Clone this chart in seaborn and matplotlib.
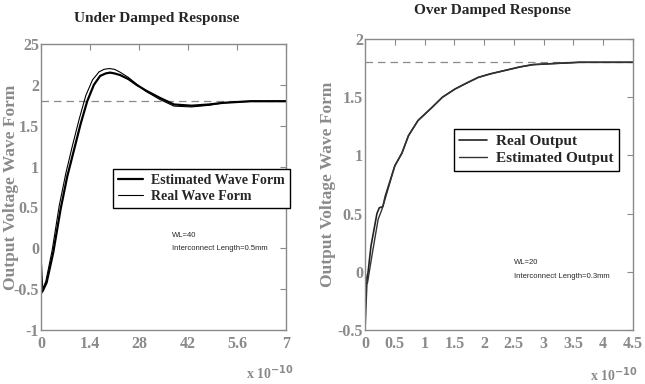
import matplotlib
matplotlib.use("Agg")
import matplotlib.pyplot as plt
import seaborn as sns

# ---- data (time in units of 1e-10 s) ----
ud_t_est = [0, 0.05, 0.16, 0.35, 0.56, 0.75, 0.94, 1.13, 1.32, 1.51, 1.69, 1.85, 1.97, 2.1, 2.26, 2.5, 2.73, 3.0, 3.4, 3.8, 4.3, 4.8, 5.2, 6.0, 7.0]
ud_v_est = [-0.55, -0.52, -0.42, -0.05, 0.48, 0.88, 1.2, 1.52, 1.8, 2.0, 2.11, 2.14, 2.15, 2.14, 2.12, 2.07, 2.0, 1.93, 1.84, 1.76, 1.745, 1.76, 1.78, 1.80, 1.80]
ud_t_real = [0, 0.05, 0.14, 0.32, 0.52, 0.71, 0.9, 1.09, 1.28, 1.47, 1.66, 1.8, 1.95, 2.1, 2.24, 2.5, 2.73, 3.0, 3.4, 3.8, 4.3, 4.8, 5.2, 6.0, 7.0]
ud_v_real = [-0.07, -0.5, -0.4, -0.02, 0.52, 0.92, 1.26, 1.58, 1.87, 2.06, 2.16, 2.19, 2.20, 2.19, 2.16, 2.09, 2.01, 1.92, 1.82, 1.74, 1.73, 1.75, 1.78, 1.80, 1.80]

od_t_real = [0, 0.03, 0.1, 0.2, 0.24, 0.3, 0.34, 0.5, 0.62, 0.73, 0.89, 1.12, 1.3, 1.51, 1.7, 1.9, 2.1, 2.35, 2.6, 2.82, 3.2, 3.6, 4.5]
od_v_real = [-0.5, -0.1, 0.22, 0.5, 0.55, 0.56, 0.65, 0.91, 1.02, 1.17, 1.30, 1.41, 1.50, 1.57, 1.62, 1.67, 1.70, 1.73, 1.76, 1.78, 1.79, 1.80, 1.80]
od_t_est = [0, 0.04, 0.12, 0.22, 0.28, 0.34, 0.5, 0.62, 0.73, 0.89, 1.12, 1.3, 1.51, 1.7, 1.9, 2.1, 2.35, 2.6, 2.82, 3.2, 3.6, 4.5]
od_v_est = [0.0, -0.1, 0.15, 0.45, 0.53, 0.63, 0.91, 1.02, 1.17, 1.30, 1.41, 1.50, 1.57, 1.62, 1.67, 1.70, 1.73, 1.76, 1.78, 1.79, 1.80, 1.80]

final_value = 1.8

ud_xticks = [0, 1.4, 2.8, 4.2, 5.6, 7]
ud_xlabels = ["0", "1.4", "28", "42", "5.6", "7"]
ud_yticks = [-1, -0.5, 0, 0.5, 1, 1.5, 2, 2.5]
ud_ylabels = ["-1", "-0.5", "0", "0.5", "1", "1.5", "2", "25"]

od_xticks = [0, 0.5, 1, 1.5, 2, 2.5, 3, 3.5, 4, 4.5]
od_xlabels = ["0", "0.5", "1", "1.5", "2", "2.5", "3", "3.5", "4", "4.5"]
od_yticks = [-0.5, 0, 0.5, 1, 1.5, 2]
od_ylabels = ["-0.5", "0", "0.5", "1", "1.5", "2"]

sns.set_theme(style="white")
plt.rcParams['font.family'] = ['Liberation Serif', 'DejaVu Serif']

GRAY = "#8a8a8a"
fig = plt.figure(figsize=(6.45, 3.84), dpi=100)
ax1 = fig.add_axes([0.0636, 0.1406, 0.3798, 0.7448])
ax2 = fig.add_axes([0.5659, 0.1406, 0.4155, 0.7578])

def style(ax, xt, xl, yt, yl, xlim, ylim):
    ax.set_xlim(*xlim)
    ax.set_ylim(*ylim)
    ax.set_xticks(xt)
    ax.set_xticklabels(xl)
    ax.set_yticks(yt)
    ax.set_yticklabels(yl)
    ax.tick_params(direction="in", length=4, width=0.8, color=GRAY,
                   top=True, right=True, labelcolor=GRAY, labelsize=11.5, pad=1.5)
    ax.tick_params(axis="x", pad=4)
    for lab in ax.get_xticklabels() + ax.get_yticklabels():
        lab.set_fontweight("bold")
    for s in ax.spines.values():
        s.set_color(GRAY)
        s.set_linewidth(1.0)
    ax.set_xlabel("")
    ax.set_ylabel("")

# ---- Under damped ----
ax1.axhline(final_value, color=GRAY, ls=(0, (6, 4)), lw=0.9)
sns.lineplot(x=ud_t_est, y=ud_v_est, ax=ax1, color="black", lw=1.6, label="Estimated Wave Form", sort=False)
sns.lineplot(x=ud_t_real, y=ud_v_real, ax=ax1, color="black", lw=0.8, label="Real Wave Form", sort=False)
style(ax1, ud_xticks, ud_xlabels, ud_yticks, ud_ylabels, (0, 7), (-1, 2.5))
leg1 = ax1.legend(loc="upper left", bbox_to_anchor=(0.294, 0.563), borderaxespad=0,
                  frameon=True, fancybox=False, edgecolor="black", framealpha=1,
                  prop={"family": "Liberation Serif", "weight": "bold", "size": 10},
                  handlelength=1.8, handletextpad=0.6, borderpad=0.35, labelspacing=0.25)
leg1.get_frame().set_linewidth(1.0)
ax1.text(3.74, 0.16, "WL=40", fontsize=5.5, family="Liberation Sans", va="center")
ax1.text(3.74, 0.0, "Interconnect Length=0.5mm", fontsize=5.5, family="Liberation Sans", va="center")

# ---- Over damped ----
ax2.axhline(final_value, color=GRAY, ls=(0, (6, 4)), lw=0.9)
sns.lineplot(x=od_t_real, y=od_v_real, ax=ax2, color="#222222", lw=1.2, label="Real Output", sort=False)
sns.lineplot(x=od_t_est, y=od_v_est, ax=ax2, color="#333333", lw=1.0, label="Estimated Output", sort=False)
style(ax2, od_xticks, od_xlabels, od_yticks, od_ylabels, (0, 4.5), (-0.5, 2))
leg2 = ax2.legend(loc="upper left", bbox_to_anchor=(0.332, 0.691), borderaxespad=0,
                  frameon=True, fancybox=False, edgecolor="black", framealpha=1,
                  prop={"family": "Liberation Serif", "weight": "bold", "size": 11},
                  handlelength=1.8, handletextpad=0.6, borderpad=0.35, labelspacing=0.25)
leg2.get_frame().set_linewidth(1.0)
ax2.text(2.5, 0.08, "WL=20", fontsize=5.5, family="Liberation Sans", va="center")
ax2.text(2.5, -0.04, "Interconnect Length=0.3mm", fontsize=5.5, family="Liberation Sans", va="center")

# ---- figure texts ----
fig.text(0.243, 0.953, "Under Damped Response", ha="center", va="center",
         fontsize=11, fontweight="bold")
fig.text(0.763, 0.972, "Over Damped Response", ha="center", va="center",
         fontsize=11, fontweight="bold")
fig.text(0.017, 0.513, "Output Voltage Wave Form", rotation=90, ha="center", va="center",
         fontsize=12.5, fontweight="bold", color=GRAY)
fig.text(0.509, 0.52, "Output Voltage Wave Form", rotation=90, ha="center", va="center",
         fontsize=12.5, fontweight="bold", color=GRAY)
fig.text(0.418, 0.03, r"x 10$^{\mathbf{-10}}$", ha="center", va="center",
         fontsize=10, fontweight="bold", color=GRAY)
fig.text(0.952, 0.025, r"x 10$^{\mathbf{-10}}$", ha="center", va="center",
         fontsize=10, fontweight="bold", color=GRAY)

fig.savefig("out.png", dpi=100)
